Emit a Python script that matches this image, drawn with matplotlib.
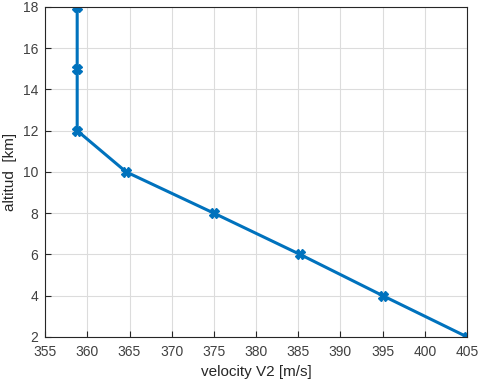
import matplotlib.pyplot as plt

plt.rcParams['font.family'] = ['Liberation Sans', 'DejaVu Sans']

velocity = [405, 395, 385.2, 375, 364.6, 358.8, 358.8, 358.8]
altitude = [2, 4, 6, 8, 10, 12, 15, 18]
xticks = [355, 360, 365, 370, 375, 380, 385, 390, 395, 400, 405]
yticks = [2, 4, 6, 8, 10, 12, 14, 16, 18]

fig = plt.figure(figsize=(4.8, 3.85), dpi=100)
ax = fig.add_axes([0.094, 0.125, 0.879, 0.857])

ax.plot(velocity, altitude, color='#0072BD', linewidth=2.2,
        marker='X', markersize=7)

ax.set_xlim(355, 405)
ax.set_ylim(2, 18)
ax.set_xticks(xticks)
ax.set_yticks(yticks)
ax.tick_params(direction='in', labelsize=10, colors='#262626', length=4,
               labelcolor='#404040')
ax.tick_params(axis='x', pad=6)
ax.tick_params(axis='y', pad=5)
ax.grid(True, color='#dcdcdc', linewidth=0.8)
ax.set_axisbelow(True)
for s in ax.spines.values():
    s.set_color('#262626')
    s.set_linewidth(0.8)

ax.set_xlabel('velocity V2 [m/s]', fontsize=11, color='#262626', labelpad=4)
ax.set_ylabel('altitud  [km]', fontsize=11, color='#262626', labelpad=4)

fig.savefig('out.png')
